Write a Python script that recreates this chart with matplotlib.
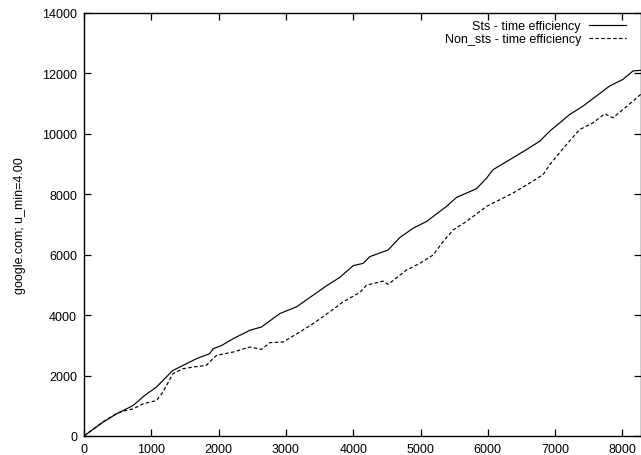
import matplotlib
matplotlib.use("Agg")
import matplotlib.pyplot as plt

# Sts - time efficiency (solid)
sts_x = [0, 282, 480, 728, 900, 1075, 1320, 1470, 1668, 1866, 1920, 2040, 2217,
         2465, 2638, 2910, 3158, 3405, 3603, 3800, 3999, 4147, 4246, 4518, 4692,
         4890, 5088, 5385, 5534, 5830, 5979, 6077, 6325, 6573, 6771, 6919, 7068,
         7216, 7414, 7612, 7810, 8008, 8157, 8270]
sts_y = [0, 455, 730, 1007, 1340, 1618, 2170, 2335, 2558, 2724, 2890, 2990, 3222,
         3500, 3610, 4053, 4275, 4662, 4972, 5250, 5638, 5714, 5936, 6157, 6568,
         6877, 7099, 7598, 7897, 8183, 8530, 8814, 9146, 9478, 9757, 10090, 10365,
         10641, 10920, 11252, 11585, 11804, 12083, 12103]

# Non_sts - time efficiency (dashed)
non_x = [0, 282, 480, 600, 728, 876, 1075, 1173, 1320, 1470, 1618, 1816, 1915,
         1970, 2217, 2465, 2638, 2762, 2960, 3207, 3405, 3653, 3850, 4098, 4197,
         4444, 4518, 4791, 4989, 5187, 5335, 5484, 5682, 5880, 5979, 6128, 6177,
         6374, 6622, 6820, 6919, 7167, 7364, 7562, 7736, 7859, 8008, 8157, 8270]
non_y = [0, 470, 740, 830, 897, 1063, 1173, 1452, 2060, 2226, 2282, 2336, 2558,
         2668, 2780, 2946, 2868, 3090, 3113, 3445, 3721, 4110, 4442, 4750, 4994,
         5126, 5017, 5492, 5714, 5990, 6435, 6821, 7099, 7432, 7598, 7764, 7818,
         8040, 8372, 8648, 8980, 9645, 10143, 10365, 10664, 10532, 10808, 11087, 11306]

x_ticks = list(range(0, 9000, 1000))
y_ticks = list(range(0, 16000, 2000))

plt.rcParams["font.family"] = ["Liberation Sans", "DejaVu Sans"]
plt.rcParams["font.size"] = 9

fig = plt.figure(figsize=(6.41, 4.56), dpi=100)
ax = fig.add_axes([84 / 641, 19 / 456, 1 - 84 / 641, 423 / 456])

ax.plot(sts_x, sts_y, color="black", linewidth=0.85, label="Sts - time efficiency")
ax.plot(non_x, non_y, color="black", linewidth=0.85, linestyle=(0, (3, 2)),
        label="Non_sts - time efficiency")

ax.set_xlim(0, 8275)
ax.set_ylim(0, 14000)
ax.set_xticks(x_ticks)
ax.set_yticks(y_ticks)
ax.tick_params(direction="in", length=5, width=0.9, top=True, right=True,
               labelsize=9, pad=5)
for s in ax.spines.values():
    s.set_linewidth(1.0)

ax.set_ylabel("google.com; u_min=4.00", fontsize=9)
ax.yaxis.set_label_coords(-0.105, 0.5)

# legend placed a few pixels up/left of the default corner
ax.legend(loc="upper right", bbox_to_anchor=(1 - 5 / 557, 1 + 3 / 423),
          frameon=False, markerfirst=False, handlelength=3.0,
          handletextpad=0.6, labelspacing=0.1, borderaxespad=0.4, fontsize=9)

fig.savefig("out.png", dpi=100)
plt.close()
